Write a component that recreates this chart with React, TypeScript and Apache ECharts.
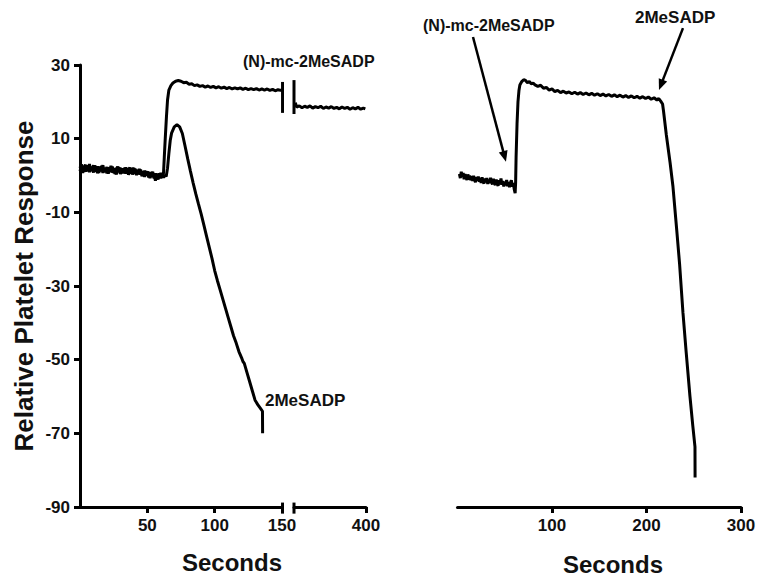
import React, { useEffect, useRef } from "react";
import * as echarts from "echarts";

const FONT = "'Liberation Sans', Arial, Helvetica, sans-serif";

// Left panel, first segment (0–150 s): (N)-mc-2MeSADP trace (top)
const leftTraceA: [number, number][] = [
  [0, 2.0], [1, 3.0], [2, 1.4], [3, 2.6], [4, 1.0], [5, 2.8], [6, 1.7], [7, 3.1], [8, 1.2], [9, 2.4],
  [10, 0.8], [11, 2.7], [12, 1.5], [13, 2.5], [14, 0.7], [15, 2.3], [16, 1.3], [17, 2.8], [18, 0.9], [19, 2.1],
  [20, 0.6], [21, 2.2], [22, 1.2], [23, 2.6], [24, 0.8], [25, 2.0], [26, 0.4], [27, 1.8], [28, 2.4], [29, 1.0],
  [30, 2.1], [31, 0.7], [32, 1.9], [33, 0.9], [34, 2.2], [35, 0.6], [36, 1.7], [37, 2.1], [38, 0.5], [39, 1.6],
  [40, 2.0], [41, 0.4], [42, 1.4], [43, 0.3], [44, 1.8], [45, 0.2], [46, 1.2], [47, 0.0], [48, 1.3], [49, 0.3],
  [50, 1.1], [51, -0.5], [52, 0.8], [53, -0.1], [54, 1.0], [55, -0.8], [56, 0.6], [57, -1.0], [58, 0.5], [59, -0.6],
  [60, 0.7], [61, -0.4], [62, 0.6], [62.6, 5], [63.3, 10], [64.2, 16], [65, 20.5], [66, 23.2], [67.5, 24.4],
  [69, 25.1], [71, 25.6], [73, 25.8], [75, 25.6], [77, 25.2], [79, 25.3], [81, 24.8], [83, 24.9], [85, 24.4],
  [87, 24.6], [89, 24.2], [91, 24.4], [93, 24.0], [95, 24.3], [97, 23.9], [99, 24.2], [101, 23.8], [103, 24.1],
  [105, 23.7], [107, 24.0], [109, 23.6], [111, 23.9], [113, 23.5], [115, 23.8], [117, 23.5], [119, 23.8],
  [121, 23.4], [123, 23.7], [125, 23.3], [127, 23.6], [129, 23.3], [131, 23.6], [133, 23.2], [135, 23.5],
  [137, 23.2], [139, 23.5], [141, 23.1], [143, 23.4], [145, 23.0], [147, 23.3], [149, 23.1], [150, 23.2],
];

// Left panel, first segment: 2MeSADP trace (bottom)
const leftTraceB: [number, number][] = [
  [0, 1.2], [1, 2.5], [2, 0.7], [3, 2.2], [4, 2.9], [5, 1.1], [6, 2.7], [7, 0.9], [8, 2.3], [9, 1.3],
  [10, 2.8], [11, 1.0], [12, 2.2], [13, 0.6], [14, 2.4], [15, 1.1], [16, 2.6], [17, 0.7], [18, 2.0], [19, 1.0],
  [20, 2.3], [21, 0.5], [22, 2.1], [23, 0.9], [24, 2.4], [25, 0.7], [26, 1.7], [27, 0.3], [28, 1.6], [29, 2.2],
  [30, 0.4], [31, 1.9], [32, 0.6], [33, 2.1], [34, 0.5], [35, 1.8], [36, 0.2], [37, 1.4], [38, 2.0], [39, 0.3],
  [40, 1.3], [41, 1.8], [42, 0.1], [43, 1.5], [44, 0.4], [45, 1.6], [46, -0.2], [47, 1.1], [48, -0.4], [49, 1.2],
  [50, 0.0], [51, 1.0], [52, -0.7], [53, 0.9], [54, -0.4], [55, 0.5], [56, -1.4], [57, 0.4], [58, -1.1], [59, 0.6],
  [60, -0.8], [61, 0.5], [62, -0.6], [63, 0.2], [64, -0.3], [65, 2.0], [66, 6.0], [67, 9.5], [68, 11.5],
  [70, 13.2], [72, 13.8], [74, 13.2], [76, 11.4], [78, 8.0], [80, 4.5], [82, 1.2], [84, -2.0], [86, -5.0],
  [88, -7.8], [90, -10.5], [92, -13.5], [94, -16.5], [96, -19.5], [98, -22.5], [100, -25.8], [102, -28.5],
  [104, -31.0], [106, -33.5], [108, -36.0], [110, -38.5], [112, -41.0], [114, -43.5], [116, -45.5],
  [118, -47.8], [120, -49.5], [121, -50.5], [122, -51.0], [124, -53.5], [126, -56.0], [128, -58.5],
  [130, -61.0], [132, -62.2], [134, -63.2], [135.5, -64.0], [135.6, -70.0],
];

// Left panel, second segment (after axis break, up to 400 s)
const leftTraceA2: [number, number][] = [
  [347, 19.8], [348, 18.6], [350, 18.9], [352, 18.4], [354, 18.8], [356, 18.5], [358, 18.9], [360, 18.3],
  [362, 18.7], [364, 18.4], [366, 18.8], [368, 18.2], [370, 18.6], [372, 18.3], [374, 18.7], [376, 18.2],
  [378, 18.5], [380, 18.1], [382, 18.6], [384, 18.2], [386, 18.5], [388, 18.0], [390, 18.4], [392, 18.1],
  [394, 18.5], [396, 18.0], [398, 18.3], [399.5, 18.1],
];

// Right panel trace
const rightTrace: [number, number][] = [
  [2, 0.4], [3, -0.7], [4, 1.0], [5, -0.4], [6, 0.7], [7, -1.0], [8, 0.4], [9, -0.6], [10, -1.2], [11, 0.3],
  [12, -1.1], [13, 0.0], [14, -1.3], [15, -0.2], [16, -1.5], [17, -0.1], [18, -1.2], [19, -1.8], [20, -0.4],
  [21, -1.4], [22, -0.3], [23, -1.7], [24, -0.7], [25, -2.0], [26, -0.5], [27, -1.6], [28, -2.2], [29, -0.8],
  [30, -1.9], [31, -0.7], [32, -2.3], [33, -1.1], [34, -2.1], [35, -0.6], [36, -1.8], [37, -2.4], [38, -0.9],
  [39, -2.0], [40, -2.6], [41, -1.1], [42, -2.2], [43, -2.8], [44, -1.3], [45, -2.4], [46, -0.8], [47, -2.5],
  [48, -1.5], [49, -3.0], [50, -1.7], [51, -2.7], [52, -1.2], [53, -2.9], [54, -1.8], [55, -3.2], [56, -2.0],
  [57, -1.3], [58, -3.0], [59, -2.0], [60, -3.7], [61, -4.8], [61.5, -2.0], [62, 5.0], [63, 14.0], [64, 20.0],
  [65, 23.0], [66, 24.6], [68, 25.5], [70, 26.0], [72, 25.8], [74, 25.2], [76, 25.5], [78, 24.9], [80, 25.1],
  [82, 24.6], [85, 24.2], [88, 24.5], [91, 23.7], [94, 23.9], [97, 23.2], [100, 23.5], [103, 22.8], [106, 23.1],
  [109, 22.5], [112, 22.9], [115, 22.4], [118, 22.7], [121, 22.2], [124, 22.6], [127, 22.1], [130, 22.5],
  [133, 22.0], [136, 22.4], [139, 21.9], [142, 22.3], [145, 21.8], [148, 22.2], [151, 21.7], [154, 22.1],
  [157, 21.6], [160, 22.0], [163, 21.5], [166, 21.9], [169, 21.4], [172, 21.8], [175, 21.3], [178, 21.7],
  [181, 21.2], [184, 21.6], [187, 21.1], [190, 21.5], [193, 21.0], [196, 21.4], [199, 20.9], [202, 21.3],
  [205, 20.7], [208, 21.1], [211, 20.5], [213, 20.9], [215, 20.2], [217, 19.4], [218, 17.5], [221, 11.0],
  [225, 3.4], [228, -3.0], [232, -14.8], [235, -24.0], [238.6, -37.3], [242, -48.0], [246, -60.0],
  [249, -68.0], [251.3, -73.7], [251.4, -82.0],
];

// Axis-break markers
const breakTraceEnd: [number, number][] = [[150.4, 17.0], [150.4, 25.4]];
const breakTraceStart: [number, number][] = [[346, 16.7], [346, 25.9]];
const breakAxisEnd: [number, number][] = [[150.4, -88.8], [150.4, -91.8]];
const breakAxisStart: [number, number][] = [[346, -88.8], [346, -91.8]];

// Arrows in right panel: [from, to] in data units
const arrowN: [number, number][] = [[16.4, 37.6], [51.3, 3.7]];
const arrow2Me: [number, number][] = [[238.6, 40.0], [213.2, 23.2]];

// Tick values
const yTicks = [-90, -70, -50, -30, -10, 10, 30];
const leftXTicks = [50, 100, 150];
const leftX2Ticks = [400];
const rightXTicks = [100, 200, 300];

const BLACK = "#000";
const TEXT = "#111";

function xAxisCfg(gridIndex: number, min: number, max: number, ticks: number[]) {
  return {
    type: "value",
    gridIndex,
    min,
    max,
    axisLine: { show: true, onZero: false, lineStyle: { color: BLACK, width: 3 } },
    axisTick: { show: true, length: 6, lineStyle: { color: BLACK, width: 3 }, customValues: ticks },
    axisLabel: {
      show: true,
      customValues: ticks,
      color: TEXT,
      fontSize: 17,
      fontWeight: "bold",
      fontFamily: FONT,
      margin: 10,
    },
    splitLine: { show: false },
  };
}

function yHidden(gridIndex: number) {
  return { type: "value", gridIndex, min: -90, max: 30, show: false, splitLine: { show: false } };
}

function lineSeries(name: string, xi: number, data: [number, number][]) {
  return {
    name,
    type: "line",
    xAxisIndex: xi,
    yAxisIndex: xi,
    data,
    showSymbol: false,
    symbol: "none",
    clip: false,
    silent: true,
    lineStyle: { color: BLACK, width: 3 },
  };
}

function textEl(text: string, x: number, y: number, size: number, align = "left") {
  return {
    type: "text",
    x,
    y,
    silent: true,
    style: {
      text,
      fill: TEXT,
      font: `bold ${size}px ${FONT}`,
      textAlign: align,
      textVerticalAlign: "middle",
    },
  };
}

function arrowEls(p0: number[], p1: number[]) {
  const dx = p1[0] - p0[0];
  const dy = p1[1] - p0[1];
  const len = Math.sqrt(dx * dx + dy * dy);
  const ux = dx / len;
  const uy = dy / len;
  const headL = 11;
  const headW = 4.5;
  const bx = p1[0] - ux * headL;
  const by = p1[1] - uy * headL;
  return [
    {
      type: "line",
      silent: true,
      shape: { x1: p0[0], y1: p0[1], x2: bx + ux * 2, y2: by + uy * 2 },
      style: { stroke: BLACK, lineWidth: 2.5 },
    },
    {
      type: "polygon",
      silent: true,
      shape: {
        points: [
          [p1[0], p1[1]],
          [bx - uy * headW, by + ux * headW],
          [bx + uy * headW, by - ux * headW],
        ],
      },
      style: { fill: BLACK },
    },
  ];
}

export default function App() {
  const ref = useRef<HTMLDivElement>(null);
  useEffect(() => {
    document.body.style.margin = "0";
    if (!ref.current) return;
    const chart = echarts.init(ref.current, null, { renderer: "svg" });
    const texts = [
      textEl("(N)-mc-2MeSADP", 243, 61, 16),
      textEl("2MeSADP", 265, 400, 17),
      textEl("(N)-mc-2MeSADP", 423, 25, 16),
      textEl("2MeSADP", 635, 17, 17),
      textEl("Seconds", 232, 562, 24, "center"),
      textEl("Seconds", 613, 564, 24, "center"),
    ];
    chart.setOption({
      animation: false,
      backgroundColor: "#fff",
      grid: [
        { left: 80, right: 475, top: 65, bottom: 72, outerBoundsMode: "none" },
        { left: 294, right: 391, top: 65, bottom: 72, outerBoundsMode: "none" },
        { left: 457.5, right: 16, top: 65, bottom: 72, outerBoundsMode: "none" },
      ],
      xAxis: [
        xAxisCfg(0, 0, 150, leftXTicks),
        xAxisCfg(1, 346, 400, leftX2Ticks),
        xAxisCfg(2, 0, 300, rightXTicks),
      ],
      yAxis: [
        {
          type: "value",
          gridIndex: 0,
          min: -90,
          max: 30,
          name: "Relative Platelet Response",
          nameLocation: "middle",
          nameRotate: 90,
          nameGap: 43,
          nameTextStyle: { color: TEXT, fontSize: 26, fontWeight: "bold", fontFamily: FONT },
          axisLine: { show: true, onZero: false, lineStyle: { color: BLACK, width: 3 } },
          axisTick: { show: true, length: 6, lineStyle: { color: BLACK, width: 3 }, customValues: yTicks },
          axisLabel: {
            show: true,
            customValues: yTicks,
            color: TEXT,
            fontSize: 17,
            fontWeight: "bold",
            fontFamily: FONT,
            margin: 10,
          },
          splitLine: { show: false },
        },
        yHidden(1),
        yHidden(2),
      ],
      series: [
        lineSeries("(N)-mc-2MeSADP", 0, leftTraceA),
        lineSeries("2MeSADP", 0, leftTraceB),
        lineSeries("(N)-mc-2MeSADP cont.", 1, leftTraceA2),
        lineSeries("break trace end", 0, breakTraceEnd),
        lineSeries("break axis end", 0, breakAxisEnd),
        lineSeries("break trace start", 1, breakTraceStart),
        lineSeries("break axis start", 1, breakAxisStart),
        lineSeries("(N)-mc-2MeSADP then 2MeSADP", 2, rightTrace),
      ],
      graphic: texts,
    });
    const finder = { xAxisIndex: 2, yAxisIndex: 2 };
    const toPx = (p: [number, number]) => chart.convertToPixel(finder as any, p) as number[];
    const arrows = [
      ...arrowEls(toPx(arrowN[0]), toPx(arrowN[1])),
      ...arrowEls(toPx(arrow2Me[0]), toPx(arrow2Me[1])),
    ];
    chart.setOption({ graphic: [...texts, ...arrows] });
    return () => chart.dispose();
  }, []);
  return <div ref={ref} style={{ width: 757, height: 579 }} />;
}
